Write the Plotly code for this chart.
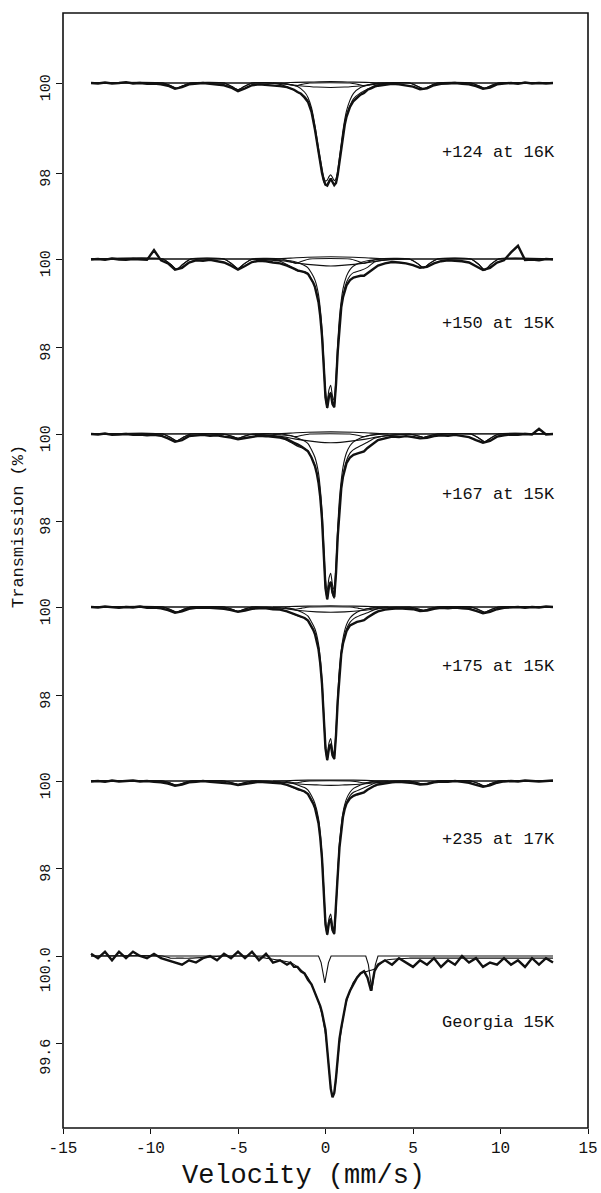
import plotly.graph_objects as go

# ---------------- x grids (velocity, mm/s) ----------------
x_data = [-13.4, -13.0, -12.6, -12.2, -11.8, -11.4, -11.0, -10.6, -10.2, -9.8, -9.4, -9.0, -8.6, -8.2,
          -7.8, -7.4, -7.0, -6.6, -6.2, -5.8, -5.4, -5.0, -4.6, -4.2, -3.8, -3.4, -3.0, -2.6, -2.2,
          -2.0, -1.8, -1.6, -1.4, -1.2, -1.0,
          -0.8, -0.7, -0.6, -0.5, -0.4, -0.3, -0.2, -0.1, 0.0, 0.1, 0.2, 0.3, 0.4, 0.5, 0.6, 0.7, 0.8,
          0.9, 1.0, 1.1, 1.2,
          1.4, 1.6, 1.8, 2.0, 2.2, 2.4, 2.6, 2.8,
          3.0, 3.4, 3.8, 4.2, 4.6, 5.0, 5.4, 5.8, 6.2, 6.6, 7.0, 7.4, 7.8, 8.2, 8.6, 9.0, 9.4, 9.8,
          10.2, 10.6, 11.0, 11.4, 11.8, 12.2, 12.6, 13.0]
x_fit = [-13.4, -9.3, -8.85, -8.5, -8.15, -7.7, -5.8, -5.35, -5.0, -4.65, -4.2, -3.4,
         -2.6, -2.0, -1.6, -1.2, -1.0, -0.8, -0.6, -0.4, -0.2, -0.1,
         0.0, 0.1, 0.2, 0.3, 0.4, 0.5, 0.6, 0.7, 0.8,
         1.0, 1.2, 1.4, 1.6, 2.0, 2.4, 2.8, 3.4,
         4.8, 5.25, 5.6, 5.95, 6.4, 8.3, 8.75, 9.1, 9.45, 9.9, 13.0]
x_sextet = [-13.4, -9.3, -8.85, -8.5, -8.15, -7.7, -5.8, -5.35, -5.0, -4.65, -4.2,
            -2.5, -2.05, -1.7, -1.35, -0.9, 1.4, 1.85, 2.2, 2.55, 3.0,
            4.8, 5.25, 5.6, 5.95, 6.4, 8.3, 8.75, 9.1, 9.45, 9.9, 13.0]
x_broad = [-13.4, -4.5, -3.5, -2.5, -1.5, -0.5, 0.3, 1.1, 2.1, 3.1, 4.1, 5.1, 13.0]
x_upper = [-3.0, -2.0, -1.0, 0.3, 1.6, 2.6, 3.6]
x_narrow = [-13.4, -0.4, -0.25, -0.04, 0.17, 0.32, 2.3, 2.45, 2.65, 2.85, 3.0, 13.0]

labels = ["+124 at 16K", "+150 at 15K", "+167 at 15K", "+175 at 15K", "+235 at 17K", "Georgia 15K"]

# ---------------- +124 at 16K ----------------
data_124 = [100.0, 99.99, 100.01, 99.99, 100.0, 100.02, 99.99, 100.0, 99.98, 99.99, 99.97, 99.94, 99.87, 99.91,
            99.97, 99.99, 100.0, 99.98, 99.97, 99.95, 99.9, 99.82, 99.88, 99.95, 99.97, 99.96, 99.95, 99.93, 99.91,
            99.88, 99.85, 99.8, 99.76, 99.68, 99.58,
            99.36, 99.18, 98.96, 98.72, 98.46, 98.22, 98.0, 97.84, 97.74, 97.72, 97.82, 97.88, 97.8, 97.73, 97.78,
            97.97, 98.25, 98.56, 98.84, 99.07, 99.25,
            99.47, 99.6, 99.68, 99.74, 99.78, 99.85, 99.88, 99.92,
            99.94, 99.96, 99.98, 99.97, 99.95, 99.92, 99.86, 99.88, 99.95, 99.98, 99.99, 100.0, 99.98, 99.97,
            99.93, 99.87, 99.9, 99.97, 99.99, 100.0, 99.98, 100.01, 99.99, 100.0, 99.99, 100.0]
fit_124 = [100, 100, 99.94, 99.88, 99.94, 100, 100, 99.92, 99.85, 99.92, 100, 100,
           99.97, 99.88, 99.8, 99.7, 99.6, 99.37, 98.97, 98.46, 98.01, 97.81,
           97.73, 97.75, 97.83, 97.87, 97.81, 97.74, 97.78, 97.97, 98.26,
           98.86, 99.28, 99.5, 99.65, 99.78, 99.86, 99.94, 99.99,
           100, 99.93, 99.87, 99.93, 100, 100, 99.94, 99.88, 99.94, 100, 100]
dbl_124 = [100, 100, 100, 100, 100, 100, 100, 100, 100, 100, 100, 100,
           99.99, 99.96, 99.92, 99.8, 99.68, 99.45, 99.05, 98.55, 98.1, 97.9,
           97.82, 97.84, 97.92, 97.96, 97.9, 97.83, 97.87, 98.06, 98.35,
           98.95, 99.38, 99.62, 99.77, 99.9, 99.95, 99.98, 100,
           100, 100, 100, 100, 100, 100, 100, 100, 100, 100, 100]
sext_124 = [100, 100, 99.94, 99.88, 99.94, 100, 100, 99.92, 99.85, 99.92, 100,
            100, 99.97, 99.94, 99.97, 100, 100, 99.97, 99.94, 99.97, 100,
            100, 99.93, 99.87, 99.93, 100, 100, 99.94, 99.88, 99.94, 100, 100]
broad_124 = [100, 100, 100, 99.98, 99.94, 99.91, 99.9, 99.91, 99.94, 99.98, 100, 100, 100]
upper_124 = [100, 100.01, 100.02, 100.03, 100.02, 100.01, 100]

# ---------------- +150 at 15K ----------------
data_150 = [99.99, 100.0, 99.98, 100.01, 99.99, 99.98, 100.0, 99.99, 99.98, 100.2, 99.97, 99.9, 99.76, 99.8,
            99.92, 99.97, 99.96, 99.98, 99.95, 99.92, 99.85, 99.76, 99.84, 99.93, 99.96, 99.95, 99.92, 99.9, 99.85,
            99.82, 99.78, 99.74, 99.72, 99.7, 99.66,
            99.54, 99.46, 99.36, 99.2, 99.02, 98.7, 98.25, 97.56, 96.85, 96.62, 96.88, 96.95, 96.7, 96.63, 97.15,
            97.9, 98.5, 98.9, 99.13, 99.3, 99.4,
            99.52, 99.58, 99.6, 99.62, 99.62, 99.68, 99.74, 99.8,
            99.85, 99.9, 99.93, 99.92, 99.9, 99.86, 99.8, 99.82, 99.9, 99.95, 99.97, 99.96, 99.95, 99.92,
            99.84, 99.75, 99.8, 99.92, 99.97, 100.15, 100.3, 99.98, 99.99, 99.97, 100.0, 99.99]
fit_150 = [100, 100, 99.88, 99.76, 99.88, 100, 100, 99.89, 99.78, 99.89, 99.99, 99.98,
           99.95, 99.83, 99.73, 99.71, 99.67, 99.54, 99.37, 99.03, 98.26, 97.55,
           96.84, 96.61, 96.87, 96.97, 96.72, 96.63, 97.16, 97.92, 98.52,
           99.17, 99.47, 99.62, 99.69, 99.74, 99.81, 99.93, 99.98,
           100, 99.9, 99.8, 99.9, 100, 100, 99.88, 99.75, 99.88, 100, 100]
dbl_150 = [100, 100, 100, 100, 100, 100, 100, 100, 100, 100, 100, 100,
           99.98, 99.96, 99.92, 99.85, 99.8, 99.68, 99.52, 99.19, 98.42, 97.71,
           97.0, 96.77, 97.03, 97.13, 96.88, 96.79, 97.32, 98.08, 98.68,
           99.32, 99.61, 99.76, 99.84, 99.92, 99.96, 99.98, 100,
           100, 100, 100, 100, 100, 100, 100, 100, 100, 100, 100]
sext_150 = [100, 100, 99.88, 99.76, 99.88, 100, 100, 99.89, 99.78, 99.89, 100,
            100, 99.95, 99.9, 99.95, 100, 100, 99.95, 99.9, 99.95, 100,
            100, 99.9, 99.8, 99.9, 100, 100, 99.88, 99.75, 99.88, 100, 100]
broad_150 = [100, 100, 99.99, 99.96, 99.9, 99.86, 99.84, 99.86, 99.9, 99.96, 99.99, 100, 100]
upper_150 = [100, 100.02, 100.04, 100.05, 100.04, 100.02, 100]

# ---------------- +167 at 15K ----------------
data_167 = [100.0, 99.99, 100.01, 99.98, 99.99, 100.0, 99.98, 99.99, 99.97, 99.98, 99.96, 99.9, 99.82, 99.86,
            99.95, 99.97, 99.98, 99.96, 99.97, 99.94, 99.92, 99.88, 99.91, 99.94, 99.96, 99.95, 99.93, 99.92, 99.88,
            99.83, 99.8, 99.76, 99.72, 99.66, 99.6,
            99.46, 99.37, 99.26, 99.1, 98.88, 98.55, 98.05, 97.25, 96.45, 96.2, 96.5, 96.6, 96.35, 96.25, 96.8,
            97.65, 98.3, 98.75, 99.02, 99.2, 99.33,
            99.46, 99.52, 99.55, 99.57, 99.6, 99.68, 99.74, 99.8,
            99.86, 99.9, 99.94, 99.93, 99.95, 99.93, 99.9, 99.91, 99.95, 99.97, 99.96, 99.98, 99.95, 99.93,
            99.86, 99.8, 99.84, 99.94, 99.97, 99.99, 99.98, 100.0, 99.99, 100.12, 99.99, 100.0]
fit_167 = [100, 100, 99.92, 99.84, 99.92, 100, 99.99, 99.95, 99.9, 99.95, 99.99, 99.97,
           99.93, 99.81, 99.72, 99.66, 99.61, 99.46, 99.27, 98.9, 98.04, 97.24,
           96.45, 96.2, 96.49, 96.6, 96.33, 96.22, 96.81, 97.66, 98.32,
           99.05, 99.39, 99.56, 99.64, 99.73, 99.81, 99.9, 99.96,
           100, 99.96, 99.92, 99.96, 100, 100, 99.91, 99.82, 99.91, 100, 100]
dbl_167 = [100, 100, 100, 100, 100, 100, 100, 100, 100, 100, 100, 100,
           99.98, 99.96, 99.91, 99.84, 99.78, 99.64, 99.46, 99.1, 98.24, 97.44,
           96.65, 96.4, 96.69, 96.8, 96.53, 96.42, 97.01, 97.86, 98.52,
           99.24, 99.57, 99.73, 99.82, 99.91, 99.96, 99.98, 100,
           100, 100, 100, 100, 100, 100, 100, 100, 100, 100, 100]
sext_167 = [100, 100, 99.92, 99.84, 99.92, 100, 100, 99.95, 99.9, 99.95, 100,
            100, 99.97, 99.94, 99.97, 100, 100, 99.97, 99.94, 99.97, 100,
            100, 99.96, 99.92, 99.96, 100, 100, 99.91, 99.82, 99.91, 100, 100]
broad_167 = [100, 100, 99.98, 99.94, 99.87, 99.82, 99.8, 99.82, 99.87, 99.94, 99.98, 100, 100]
upper_167 = [100, 100.02, 100.04, 100.05, 100.04, 100.02, 100]

# ---------------- +175 at 15K ----------------
data_175 = [100.0, 99.99, 100.01, 100.0, 99.98, 100.0, 99.99, 100.01, 99.98, 99.99, 99.97, 99.93, 99.87, 99.9,
            99.96, 99.98, 99.99, 99.98, 99.97, 99.96, 99.93, 99.89, 99.92, 99.96, 99.97, 99.97, 99.95, 99.94, 99.9,
            99.87, 99.84, 99.8, 99.78, 99.75, 99.69,
            99.56, 99.48, 99.38, 99.24, 99.04, 98.72, 98.25, 97.5, 96.78, 96.52, 96.8, 96.88, 96.63, 96.55, 97.08,
            97.87, 98.5, 98.93, 99.17, 99.34, 99.45,
            99.58, 99.63, 99.66, 99.68, 99.7, 99.76, 99.82, 99.86,
            99.9, 99.94, 99.96, 99.97, 99.96, 99.95, 99.91, 99.92, 99.96, 99.98, 99.97, 99.99, 99.97, 99.96,
            99.91, 99.86, 99.89, 99.95, 99.98, 99.99, 100.0, 99.98, 100.0, 99.99, 100.01, 100.0]
fit_175 = [100, 100, 99.94, 99.88, 99.94, 100, 100, 99.95, 99.9, 99.95, 100, 99.98,
           99.95, 99.87, 99.8, 99.75, 99.69, 99.55, 99.39, 99.05, 98.24, 97.5,
           96.77, 96.52, 96.79, 96.89, 96.64, 96.54, 97.09, 97.88, 98.51,
           99.18, 99.5, 99.65, 99.73, 99.81, 99.87, 99.94, 99.98,
           100, 99.96, 99.92, 99.96, 100, 100, 99.94, 99.88, 99.94, 100, 100]
dbl_175 = [100, 100, 100, 100, 100, 100, 100, 100, 100, 100, 100, 100,
           99.98, 99.96, 99.92, 99.85, 99.79, 99.66, 99.5, 99.16, 98.35, 97.61,
           96.88, 96.64, 96.91, 97.01, 96.76, 96.66, 97.21, 98.0, 98.62,
           99.29, 99.6, 99.75, 99.83, 99.92, 99.96, 99.98, 100,
           100, 100, 100, 100, 100, 100, 100, 100, 100, 100, 100]
sext_175 = [100, 100, 99.94, 99.88, 99.94, 100, 100, 99.95, 99.9, 99.95, 100,
            100, 99.975, 99.95, 99.975, 100, 100, 99.975, 99.95, 99.975, 100,
            100, 99.96, 99.92, 99.96, 100, 100, 99.94, 99.88, 99.94, 100, 100]
broad_175 = [100, 100, 99.99, 99.97, 99.92, 99.89, 99.88, 99.89, 99.92, 99.97, 99.99, 100, 100]
upper_175 = [100, 100.01, 100.02, 100.03, 100.02, 100.01, 100]

# ---------------- +235 at 17K ----------------
data_235 = [99.99, 100.0, 99.98, 100.01, 99.99, 100.0, 100.01, 99.99, 100.0, 99.98, 99.97, 99.94, 99.89, 99.92,
            99.97, 99.98, 100.0, 99.98, 99.97, 99.96, 99.94, 99.91, 99.93, 99.96, 99.98, 99.97, 99.96, 99.95, 99.91,
            99.88, 99.85, 99.81, 99.79, 99.76, 99.7,
            99.57, 99.48, 99.38, 99.23, 99.03, 98.7, 98.22, 97.45, 96.7, 96.47, 96.75, 96.83, 96.57, 96.49, 97.05,
            97.84, 98.48, 98.92, 99.18, 99.36, 99.48,
            99.6, 99.66, 99.69, 99.72, 99.74, 99.8, 99.85, 99.89,
            99.92, 99.95, 99.97, 99.98, 99.97, 99.95, 99.92, 99.93, 99.97, 99.99, 99.98, 100.0, 99.98, 99.96,
            99.91, 99.87, 99.9, 99.96, 99.99, 100.0, 99.99, 100.01, 100.0, 99.99, 100.0, 100.01]
fit_235 = [100, 100, 99.95, 99.9, 99.95, 100, 100, 99.96, 99.92, 99.96, 100, 99.98,
           99.96, 99.88, 99.8, 99.76, 99.7, 99.56, 99.38, 99.04, 98.21, 97.46,
           96.7, 96.46, 96.74, 96.84, 96.58, 96.48, 97.04, 97.85, 98.49,
           99.19, 99.5, 99.66, 99.74, 99.81, 99.88, 99.95, 99.98,
           100, 99.96, 99.92, 99.96, 100, 100, 99.94, 99.88, 99.94, 100, 100]
dbl_235 = [100, 100, 100, 100, 100, 100, 100, 100, 100, 100, 100, 100,
           99.98, 99.96, 99.91, 99.85, 99.79, 99.66, 99.48, 99.14, 98.31, 97.56,
           96.8, 96.56, 96.84, 96.94, 96.68, 96.58, 97.14, 97.95, 98.59,
           99.28, 99.59, 99.74, 99.83, 99.91, 99.96, 99.98, 100,
           100, 100, 100, 100, 100, 100, 100, 100, 100, 100, 100]
sext_235 = [100, 100, 99.95, 99.9, 99.95, 100, 100, 99.96, 99.92, 99.96, 100,
            100, 99.98, 99.96, 99.98, 100, 100, 99.98, 99.96, 99.98, 100,
            100, 99.96, 99.92, 99.96, 100, 100, 99.94, 99.88, 99.94, 100, 100]
broad_235 = [100, 100, 99.99, 99.97, 99.93, 99.91, 99.9, 99.91, 99.93, 99.97, 99.99, 100, 100]
upper_235 = [100, 100.01, 100.02, 100.02, 100.02, 100.01, 100]

# ---------------- Georgia 15K ----------------
data_geo = [100.01, 99.99, 100.02, 99.98, 100.02, 99.99, 100.02, 100.0, 99.99, 100.01, 99.99, 99.98, 99.97, 99.96,
            99.98, 99.97, 99.99, 100.0, 99.98, 100.01, 99.99, 100.02, 99.99, 100.02, 99.98, 100.01, 99.97, 99.98, 99.96,
            99.97, 99.95, 99.95, 99.93, 99.92, 99.89,
            99.87, 99.85, 99.83, 99.81, 99.79, 99.77, 99.74, 99.7, 99.66, 99.57, 99.47, 99.39, 99.35, 99.37, 99.44,
            99.54, 99.62, 99.67, 99.71, 99.76, 99.8,
            99.84, 99.87, 99.9, 99.92, 99.93, 99.9, 99.84, 99.93,
            99.96, 99.98, 99.96, 99.99, 99.97, 99.95, 99.98, 99.96, 99.99, 99.95, 99.98, 99.96, 100.0, 99.97,
            99.99, 99.95, 99.97, 99.96, 99.99, 99.96, 99.98, 99.95, 99.99, 99.96, 99.99, 99.97]
fit_geo = [100, 100, 99.99, 99.99, 99.99, 99.99, 100, 100, 100, 100, 100, 99.99,
           99.98, 99.97, 99.95, 99.92, 99.9, 99.87, 99.83, 99.79, 99.73, 99.69,
           99.64, 99.57, 99.48, 99.4, 99.36, 99.37, 99.43, 99.52, 99.6,
           99.71, 99.79, 99.84, 99.88, 99.92, 99.93, 99.94, 99.98,
           99.99, 99.99, 99.99, 99.99, 99.99, 99.99, 99.99, 99.99, 99.99, 99.99, 99.99]
narrow_geo = [100, 100, 99.97, 99.876, 99.97, 100, 100, 99.96, 99.84, 99.96, 100, 100]

spectra = [
    dict(data=data_124, fit=fit_124, dbl=dbl_124, sext=sext_124, broad=broad_124, upper=upper_124),
    dict(data=data_150, fit=fit_150, dbl=dbl_150, sext=sext_150, broad=broad_150, upper=upper_150),
    dict(data=data_167, fit=fit_167, dbl=dbl_167, sext=sext_167, broad=broad_167, upper=upper_167),
    dict(data=data_175, fit=fit_175, dbl=dbl_175, sext=sext_175, broad=broad_175, upper=upper_175),
    dict(data=data_235, fit=fit_235, dbl=dbl_235, sext=sext_235, broad=broad_235, upper=upper_235),
    dict(data=data_geo, fit=fit_geo, narrow=narrow_geo),
]

tick_vals = [[98, 100]] * 5 + [[99.6, 100.0]]
tick_text = [["98", "100"]] * 5 + [["99.6", "100.0"]]

for s in spectra:
    assert len(s["data"]) == len(x_data), len(s["data"])
    assert len(s["fit"]) == len(x_fit), len(s["fit"])
    if "dbl" in s:
        assert len(s["dbl"]) == len(x_fit)
        assert len(s["sext"]) == len(x_sextet)
        assert len(s["broad"]) == len(x_broad)
        assert len(s["upper"]) == len(x_upper)

# ---------------- layout geometry (pixels) ----------------
W, H = 601, 1193
PX_L, PX_R, PX_T, PX_B = 63, 588, 13, 1128
top_tick_px = [83, 259, 434, 607, 781, 956]      # where each 100 % tick sits
low_tick_px = [173, 347, 521, 695, 868, 1043]     # where the lower tick sits
label_px = [152, 323, 494, 666, 839, 1022]
FONT = "Liberation Mono, DejaVu Sans Mono, monospace"
INK = "#111111"

def paper_x(px):
    return (px - PX_L) / (PX_R - PX_L)

def paper_y(py):
    return (PX_B - py) / (PX_B - PX_T)

fig = go.Figure()
THIN = dict(color=INK, width=1.1)
for i, s in enumerate(spectra):
    yref = "y" if i == 0 else f"y{i + 1}"
    if "dbl" in s:
        fig.add_trace(go.Scatter(x=x_broad, y=s["broad"], mode="lines", line=dict(THIN, shape="spline"), yaxis=yref))
        fig.add_trace(go.Scatter(x=x_upper, y=s["upper"], mode="lines", line=dict(THIN, shape="spline"), yaxis=yref))
        fig.add_trace(go.Scatter(x=x_sextet, y=s["sext"], mode="lines", line=dict(THIN, shape="spline", smoothing=0.6), yaxis=yref))
        fig.add_trace(go.Scatter(x=x_fit, y=s["dbl"], mode="lines", line=dict(THIN, shape="spline", smoothing=0.5), yaxis=yref))
    else:
        fig.add_trace(go.Scatter(x=x_narrow, y=s["narrow"], mode="lines", line=THIN, yaxis=yref))
    fig.add_trace(go.Scatter(x=x_fit, y=s["fit"], mode="lines", line=dict(THIN, shape="spline", smoothing=0.5), yaxis=yref))
    fig.add_trace(go.Scatter(x=x_data, y=s["data"], mode="lines", line=dict(color=INK, width=2.4), yaxis=yref))

layout = dict(
    width=W, height=H,
    margin=dict(l=PX_L, r=W - PX_R, t=PX_T, b=H - PX_B, autoexpand=False),
    paper_bgcolor="white", plot_bgcolor="white",
    showlegend=False,
    font=dict(family=FONT, color=INK, size=15),
    xaxis=dict(range=[-15, 15], tickvals=[-15, -10, -5, 0, 5, 10, 15],
               ticktext=["-15", "-10", "-5", "0", "5", "10", "15"],
               ticks="outside", ticklen=5, tickwidth=1.2, tickcolor=INK,
               showgrid=False, zeroline=False, showline=False,
               tickfont=dict(family=FONT, size=16, color=INK)),
)
for i in range(6):
    p100 = top_tick_px[i]
    plow = low_tick_px[i]
    vlow = tick_vals[i][0]
    k = (plow - p100) / (100 - vlow)
    rng = [100 - (PX_B - p100) / k, 100 + (p100 - PX_T) / k]
    ax = dict(domain=[0, 1], range=rng, tickvals=tick_vals[i], ticktext=tick_text[i],
              tickangle=-90, ticks="outside", ticklen=6, tickwidth=1.2, tickcolor=INK,
              showgrid=False, zeroline=False, showline=False, anchor="x",
              ticklabelshift=(16 if i == 5 else 7),
              tickfont=dict(family=FONT, size=15, color=INK))
    if i > 0:
        ax["overlaying"] = "y"
    layout["yaxis" if i == 0 else f"yaxis{i + 1}"] = ax

fig.update_layout(**layout)

fig.add_shape(type="rect", xref="paper", yref="paper", x0=0, x1=1, y0=0, y1=1,
              line=dict(color=INK, width=1.6))

for i, lab in enumerate(labels):
    fig.add_annotation(text=lab, xref="paper", yref="paper", x=paper_x(557), y=paper_y(label_px[i]),
                       xanchor="right", yanchor="middle", showarrow=False,
                       font=dict(family=FONT, size=17, color=INK))

fig.add_annotation(text="Transmission (%)", xref="paper", yref="paper", x=paper_x(18), y=paper_y(527),
                   textangle=-90, xanchor="center", yanchor="middle", showarrow=False,
                   font=dict(family=FONT, size=17, color=INK))
fig.add_annotation(text="Velocity (mm/s)", xref="paper", yref="paper", x=paper_x(303), y=paper_y(1176),
                   xanchor="center", yanchor="middle", showarrow=False,
                   font=dict(family=FONT, size=27, color=INK))

fig.write_html("out.html", config={"displayModeBar": False},
               post_script="document.body.style.margin='0';document.body.style.overflow='hidden';")
